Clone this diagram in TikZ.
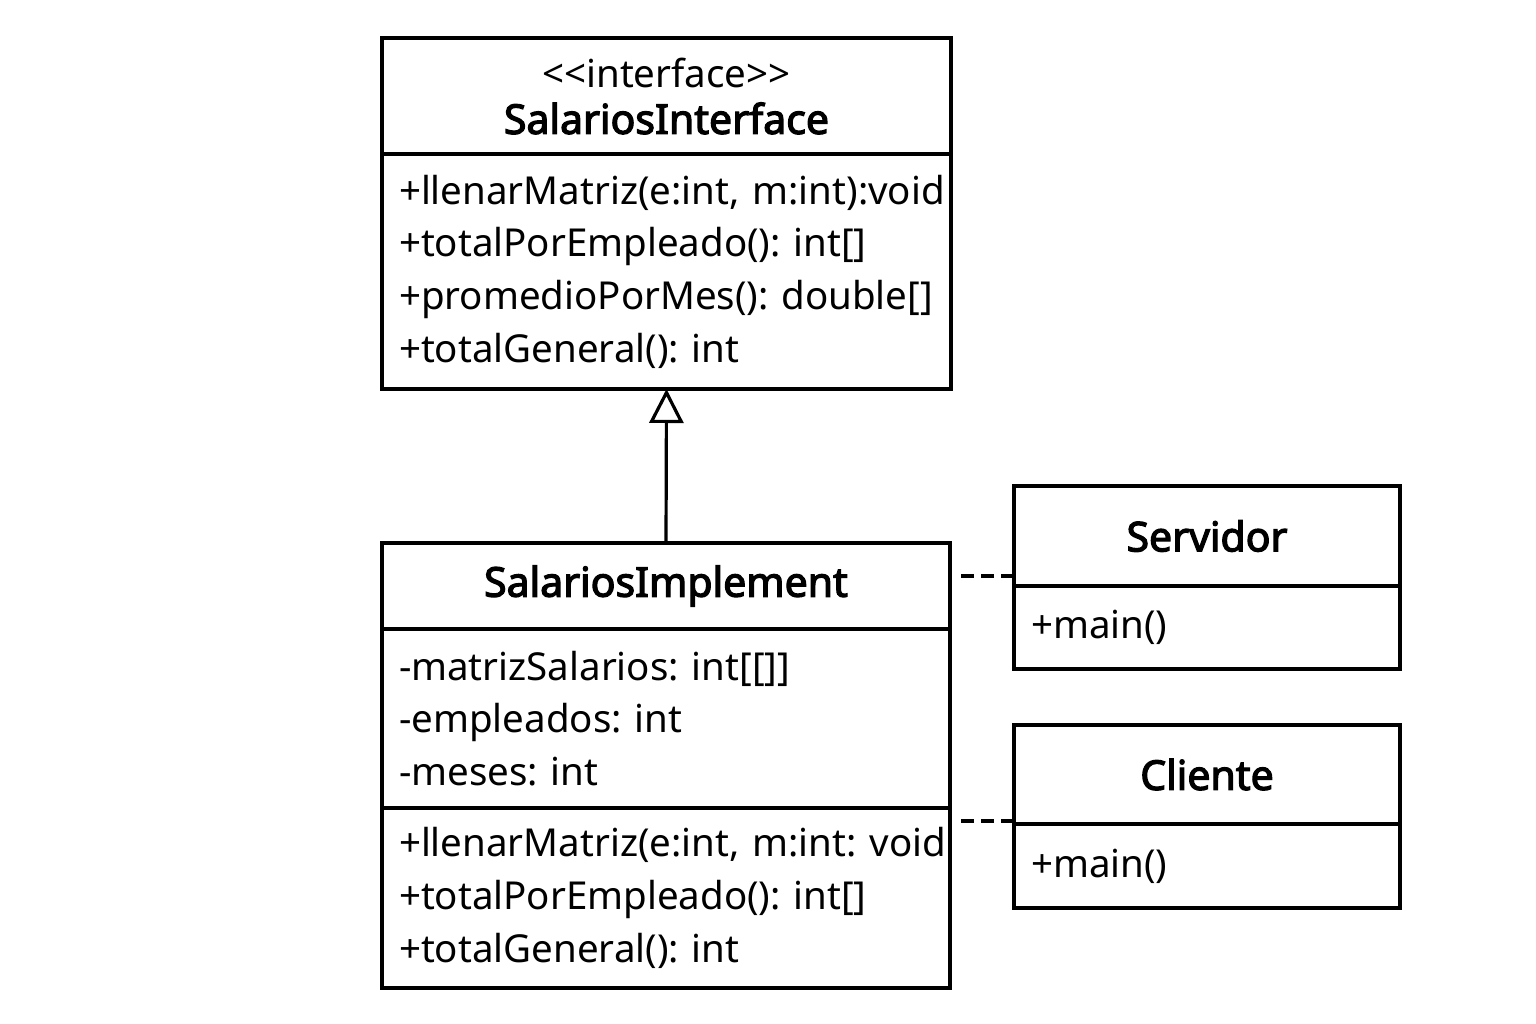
\documentclass[tikz,border=0pt]{standalone}
\usepackage{fontspec}
\setmainfont{Noto Sans}[BoldFont={Noto Sans}, BoldFeatures={FakeBold=3}]
\usetikzlibrary{arrows.meta,positioning}
\frenchspacing

\begin{document}
\begin{tikzpicture}[
      x=1pt, y=-1pt,
      every node/.style={font=\fontsize{38.5}{52.7}\selectfont},
      part/.style={rectangle, draw, line width=3.2pt, inner xsep=17pt, inner ysep=0pt, outer sep=0pt, anchor=north west},
      head/.style={part, align=center},
      body/.style={part, align=left},
      cname/.style={font=\fontsize{41}{52.7}\selectfont\bfseries},
      realize/.style={-{Triangle[open, length=34pt, width=34pt]}, line width=3.2pt},
      dep/.style={line width=3.2pt, dash pattern=on 13pt off 7pt, shorten >=7pt},
    ]
    \useasboundingbox (0,0) rectangle (1536,1024);
    % interface
    \node[head, minimum width=569pt, minimum height=116pt, text width=535pt] (ifaceHead) at (382,38)
      {<{}<interface>{}>\\[-6pt]{\fontsize{41}{52.7}\selectfont\bfseries SalariosInterface}};
    \node[body, minimum width=569pt, minimum height=235pt, text width=535pt, below=0pt of ifaceHead.south west, anchor=north west] (ifaceOps)
      {+llenarMatriz(e:int,~m:int):void\\+totalPorEmpleado(): int[]\\+promedioPorMes(): double[]\\+totalGeneral(): int};
    % implementation
    \node[head, cname, minimum width=568pt, minimum height=86pt, text width=534pt] (implHead) at (382,543)
      {SalariosImplement};
    \node[body, minimum width=568pt, minimum height=179pt, text width=534pt, below=0pt of implHead.south west, anchor=north west] (implAttr)
      {-matrizSalarios: int[[]]\\-empleados: int\\-meses: int};
    \node[body, minimum width=568pt, minimum height=180pt, text width=534pt, below=0pt of implAttr.south west, anchor=north west] (implOps)
      {+llenarMatriz(e:int,~m:int:~void\\+totalPorEmpleado(): int[]\\+totalGeneral(): int};
    % servidor / cliente
    \node[head, cname, minimum width=386pt, minimum height=100pt, text width=352pt] (servHead) at (1014,486)
      {Servidor};
    \node[body, minimum width=386pt, minimum height=83pt, text width=352pt, below=0pt of servHead.south west, anchor=north west] (servOps)
      {+main()};
    \node[head, cname, minimum width=386pt, minimum height=99pt, text width=352pt] (cliHead) at (1014,725)
      {Cliente};
    \node[body, minimum width=386pt, minimum height=84pt, text width=352pt, below=0pt of cliHead.south west, anchor=north west] (cliOps)
      {+main()};
    % connectors
    \draw[realize] (implHead.north) -- (ifaceOps.south);
    \draw[dep] ([yshift=10pt]servHead.south west) -- ([yshift=10pt]servHead.south west -| implHead.east);
    \draw[dep] ([yshift=3pt]cliHead.south west) -- ([yshift=3pt]cliHead.south west -| implOps.east);
  \end{tikzpicture}
\end{document}
